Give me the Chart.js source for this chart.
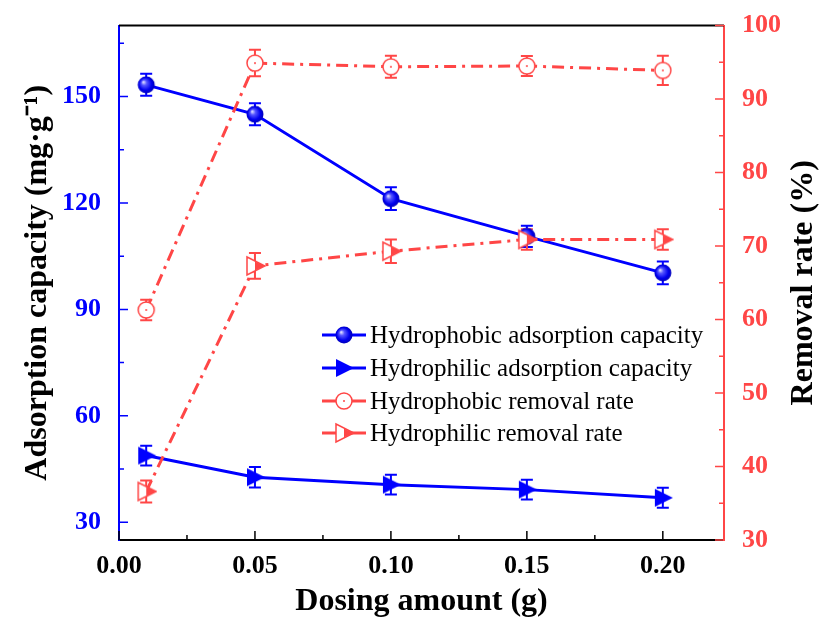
<!DOCTYPE html>
<html>
<head>
<meta charset="utf-8">
<script src="https://cdn.jsdelivr.net/npm/chart.js@4.4.0/dist/chart.umd.min.js"></script>
<style>
html, body { margin: 0; padding: 0; background: #fff; }
#wrap { width: 820px; height: 621px; }
</style>
</head>
<body>
<div id="wrap"><canvas id="chart" width="820" height="621"></canvas></div>
<script>
// data
const dosing = [0.01, 0.05, 0.10, 0.15, 0.20];
const phobicCapacity = [153.3, 145.0, 121.2, 110.6, 100.3];
const phobicCapacityErr = [3.1, 3.1, 3.2, 3.0, 3.2];
const philicCapacity = [48.8, 42.7, 40.6, 39.2, 36.9];
const philicCapacityErr = [2.8, 2.9, 2.8, 2.8, 2.8];
const phobicRemoval = [61.3, 94.9, 94.4, 94.5, 93.9];
const phobicRemovalErr = [1.4, 1.8, 1.5, 1.35, 2.0];
const philicRemoval = [36.6, 67.3, 69.3, 70.9, 70.9];
const philicRemovalErr = [1.5, 1.75, 1.6, 1.4, 1.4];

const xTicks = [0, 0.05, 0.10, 0.15, 0.20];
const leftTicks = [30, 60, 90, 120, 150];
const rightTicks = [30, 40, 50, 60, 70, 80, 90, 100];

const BLUE = '#0000ff';
const RED = '#ff4646';
const SERIF = '"Liberation Serif", "Times New Roman", serif';

// marker images
function makeCanvas(size, draw) {
    const c = document.createElement('canvas');
    c.width = size; c.height = size;
    draw(c.getContext('2d'), size / 2);
    return c;
}

const sphere = makeCanvas(20, function(g, c) {
    const grad = g.createRadialGradient(c - 3, c - 3, 0, c, c, 9);
    grad.addColorStop(0, '#f0f0ff');
    grad.addColorStop(0.3, '#5555ff');
    grad.addColorStop(0.7, '#0000ee');
    grad.addColorStop(1, '#0000b0');
    g.fillStyle = grad;
    g.beginPath(); g.arc(c, c, 8.5, 0, Math.PI * 2); g.fill();
});

const ringDot = makeCanvas(20, function(g, c) {
    g.fillStyle = '#fff';
    g.strokeStyle = RED;
    g.lineWidth = 1.5;
    g.beginPath(); g.arc(c, c, 8, 0, Math.PI * 2); g.fill(); g.stroke();
    g.fillStyle = RED;
    g.beginPath(); g.arc(c, c, 1, 0, Math.PI * 2); g.fill();
});

const blueTri = makeCanvas(22, function(g, c) {
    g.fillStyle = BLUE;
    g.beginPath();
    g.moveTo(c - 8, c - 9); g.lineTo(c + 10, c); g.lineTo(c - 8, c + 9);
    g.closePath(); g.fill();
});

const halfTri = makeCanvas(22, function(g, c) {
    g.fillStyle = '#fff';
    g.strokeStyle = RED;
    g.lineWidth = 1.5;
    g.beginPath();
    g.moveTo(c - 8, c - 9); g.lineTo(c + 10, c); g.lineTo(c - 8, c + 9);
    g.closePath(); g.fill(); g.stroke();
    g.fillStyle = RED;
    g.beginPath();
    g.moveTo(c, c - 4.5); g.lineTo(c + 10, c); g.lineTo(c, c + 4.5);
    g.closePath(); g.fill();
});

function points(ys) {
    return dosing.map((x, i) => ({ x: x, y: ys[i] }));
}

const errors = [phobicCapacityErr, philicCapacityErr, phobicRemovalErr, philicRemovalErr];

// error bars under the markers
const errorBars = {
    id: 'errorBars',
    beforeDatasetsDraw(chart) {
        const g = chart.ctx;
        chart.data.datasets.forEach((ds, di) => {
            const ys = chart.scales[ds.yAxisID];
            const xs = chart.scales.x;
            g.save();
            g.strokeStyle = ds.borderColor;
            g.lineWidth = 2;
            ds.data.forEach((p, i) => {
                const e = errors[di][i];
                const px = xs.getPixelForValue(p.x);
                const top = ys.getPixelForValue(p.y + e);
                const bot = ys.getPixelForValue(p.y - e);
                g.beginPath();
                g.moveTo(px, top); g.lineTo(px, bot);
                g.moveTo(px - 6, top); g.lineTo(px + 6, top);
                g.moveTo(px - 6, bot); g.lineTo(px + 6, bot);
                g.stroke();
            });
            g.restore();
        });
    }
};

// inward ticks, minor ticks, top frame line and the right title
const frame = {
    id: 'frame',
    afterDraw(chart) {
        const g = chart.ctx;
        const a = chart.chartArea;
        const x = chart.scales.x, yl = chart.scales.y, yr = chart.scales.y1;
        g.save();
        g.lineWidth = 2;

        g.strokeStyle = '#000';
        g.beginPath(); g.moveTo(a.left, a.top); g.lineTo(a.right, a.top); g.stroke();

        function mids(arr) {
            const out = [];
            for (let i = 0; i < arr.length - 1; i++) out.push((arr[i] + arr[i + 1]) / 2);
            return out;
        }

        g.lineWidth = 1.5;
        g.strokeStyle = '#000';
        g.beginPath();
        xTicks.forEach(v => { const p = x.getPixelForValue(v); g.moveTo(p, a.bottom); g.lineTo(p, a.bottom - 9); });
        mids(xTicks).forEach(v => { const p = x.getPixelForValue(v); g.moveTo(p, a.bottom); g.lineTo(p, a.bottom - 5); });
        g.stroke();

        g.strokeStyle = BLUE;
        g.beginPath();
        leftTicks.forEach(v => { const p = yl.getPixelForValue(v); g.moveTo(a.left, p); g.lineTo(a.left + 9, p); });
        mids(leftTicks).concat([165]).forEach(v => { const p = yl.getPixelForValue(v); g.moveTo(a.left, p); g.lineTo(a.left + 5, p); });
        g.stroke();

        g.strokeStyle = RED;
        g.beginPath();
        rightTicks.forEach(v => { const p = yr.getPixelForValue(v); g.moveTo(a.right, p); g.lineTo(a.right - 9, p); });
        mids(rightTicks).forEach(v => { const p = yr.getPixelForValue(v); g.moveTo(a.right, p); g.lineTo(a.right - 5, p); });
        g.stroke();

        // right axis title reads bottom to top, like the left one
        g.translate(804, (a.top + a.bottom) / 2);
        g.rotate(-Math.PI / 2);
        g.fillStyle = '#000';
        g.font = 'bold 32px ' + SERIF;
        g.textAlign = 'center';
        g.textBaseline = 'middle';
        g.fillText('Removal rate (%)', 0, 0);

        g.restore();
    }
};

// legend inside the plot
const insideLegend = {
    id: 'insideLegend',
    afterDraw(chart) {
        const g = chart.ctx;
        const x0 = 322, rows = [335, 368, 401, 433];
        g.save();
        g.font = '25px ' + SERIF;
        g.textBaseline = 'middle';
        chart.data.datasets.forEach((ds, i) => {
            const y = rows[i];
            g.strokeStyle = ds.borderColor;
            g.lineWidth = 3;
            g.beginPath(); g.moveTo(x0, y); g.lineTo(x0 + 44, y); g.stroke();
            const img = ds.pointStyle;
            g.drawImage(img, x0 + 22 - img.width / 2, y - img.height / 2);
            g.fillStyle = '#000';
            g.fillText(ds.label, x0 + 48, y + 1);
        });
        g.restore();
    }
};

const ctx = document.getElementById('chart').getContext('2d');
new Chart(ctx, {
    type: 'line',
    data: {
        datasets: [
            {
                label: 'Hydrophobic adsorption capacity',
                data: points(phobicCapacity),
                yAxisID: 'y',
                borderColor: BLUE,
                borderWidth: 3,
                pointStyle: sphere,
                order: 4
            },
            {
                label: 'Hydrophilic adsorption capacity',
                data: points(philicCapacity),
                yAxisID: 'y',
                borderColor: BLUE,
                borderWidth: 3,
                pointStyle: blueTri,
                order: 3
            },
            {
                label: 'Hydrophobic removal rate',
                data: points(phobicRemoval),
                yAxisID: 'y1',
                borderColor: RED,
                borderWidth: 3,
                borderDash: [12, 6, 3, 6],
                pointStyle: ringDot,
                order: 2
            },
            {
                label: 'Hydrophilic removal rate',
                data: points(philicRemoval),
                yAxisID: 'y1',
                borderColor: RED,
                borderWidth: 3,
                borderDash: [12, 6, 3, 6],
                pointStyle: halfTri,
                order: 1
            }
        ]
    },
    options: {
        responsive: false,
        animation: false,
        layout: { padding: { top: 22, left: 0, right: 0, bottom: 0 } },
        plugins: {
            legend: { display: false },
            tooltip: { enabled: false }
        },
        scales: {
            x: {
                type: 'linear',
                min: 0,
                max: 0.2225,
                afterBuildTicks: s => { s.ticks = xTicks.map(v => ({ value: v })); },
                afterFit: s => { s.height = 81; },
                grid: { display: false },
                border: { color: '#000', width: 2 },
                ticks: {
                    color: '#000',
                    padding: 3,
                    font: { family: SERIF, size: 26, weight: 'bold' },
                    callback: v => v.toFixed(2)
                },
                title: {
                    display: true,
                    text: 'Dosing amount (g)',
                    color: '#000',
                    padding: { top: 0, bottom: 0 },
                    font: { family: SERIF, size: 32, weight: 'bold' }
                }
            },
            y: {
                type: 'linear',
                position: 'left',
                min: 25,
                max: 170,
                afterBuildTicks: s => { s.ticks = leftTicks.map(v => ({ value: v })); },
                afterFit: s => { s.width = 119; },
                grid: { display: false },
                border: { color: BLUE, width: 2 },
                ticks: {
                    color: BLUE,
                    padding: 10,
                    font: { family: SERIF, size: 26, weight: 'bold' }
                },
                title: {
                    display: true,
                    text: 'Adsorption capacity (mg·g⁻¹)',
                    color: '#000',
                    padding: { top: 19, bottom: 0 },
                    font: { family: SERIF, size: 32, weight: 'bold' }
                }
            },
            y1: {
                type: 'linear',
                position: 'right',
                min: 30,
                max: 100,
                afterBuildTicks: s => { s.ticks = rightTicks.map(v => ({ value: v })); },
                afterFit: s => { s.width = 96; },
                grid: { display: false },
                border: { color: RED, width: 2 },
                ticks: {
                    color: RED,
                    padding: 10,
                    font: { family: SERIF, size: 26, weight: 'bold' }
                },
                title: { display: false }
            }
        }
    },
    plugins: [errorBars, frame, insideLegend]
});
</script>
</body>
</html>
